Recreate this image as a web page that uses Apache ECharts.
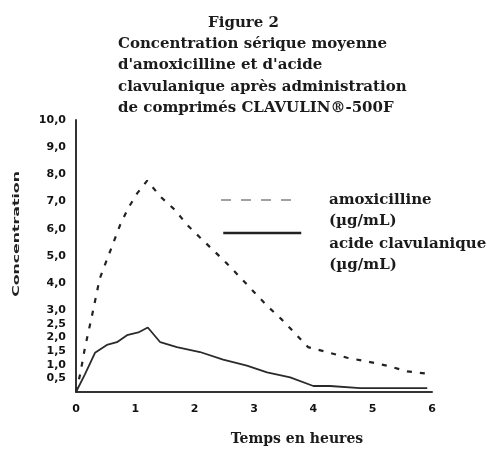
<!DOCTYPE html>
<html>
<head>
<meta charset="utf-8">
<script src="https://cdn.jsdelivr.net/npm/echarts@6/dist/echarts.min.js"></script>
<style>
  html, body { margin: 0; padding: 0; background: #fff; }
  #chart { width: 487px; height: 451px; }
</style>
</head>
<body>
<div id="chart"></div>
<script>
// ---- Data ----
const titleHead = 'Figure 2';
const titleLines = [
  'Concentration sérique moyenne',
  "d'amoxicilline et d'acide",
  'clavulanique après administration',
  'de comprimés CLAVULIN®-500F'
];
const xAxisTitle = 'Temps en heures';
const yAxisTitle = 'Concentration';
const seriesNames = ['amoxicilline', 'acide clavulanique'];
const unitLabel = '(µg/mL)';

const xTickValues = [0, 1, 2, 3, 4, 5, 6];
const yTickValues = [0.5, 1, 1.5, 2, 2.5, 3, 4, 5, 6, 7, 8, 9, 10];
const yTickLabels = ['0,5', '1,0', '1,5', '2,0', '2,5', '3,0', '4,0', '5,0', '6,0', '7,0', '8,0', '9,0', '10,0'];

const amoxTime = [0, 0.07, 0.15, 0.27, 0.40, 0.52, 0.62, 0.74, 0.88, 1.03, 1.20, 1.42, 1.67, 1.87, 2.09, 2.31, 2.55, 2.80, 3.02, 3.22, 3.47, 3.69, 3.91, 4.23, 4.57, 4.91, 5.24, 5.58, 5.89];
const amoxConc = [0, 0.65, 1.62, 2.81, 4.17, 4.86, 5.43, 6.12, 6.76, 7.30, 7.77, 7.19, 6.69, 6.15, 5.68, 5.22, 4.71, 4.14, 3.63, 3.17, 2.66, 2.16, 1.65, 1.47, 1.26, 1.12, 0.97, 0.76, 0.68];

const clavTime = [0, 0.15, 0.32, 0.52, 0.69, 0.86, 1.05, 1.21, 1.42, 1.70, 2.09, 2.48, 2.88, 3.22, 3.61, 4.00, 4.28, 4.79, 5.92];
const clavConc = [0, 0.65, 1.44, 1.73, 1.83, 2.09, 2.19, 2.37, 1.83, 1.65, 1.47, 1.19, 0.97, 0.72, 0.54, 0.22, 0.22, 0.14, 0.14];

// ---- Build chart ----
const pairs = (xs, ys) => xs.map((x, i) => [x, ys[i]]);
const yLabelMap = {};
yTickValues.forEach((v, i) => { yLabelMap[v.toFixed(1)] = yTickLabels[i]; });

const serif = 'DejaVu Serif';
const ink = '#1b1b1b';
const L = 21.5;

const chart = echarts.init(document.getElementById('chart'), null, { renderer: 'canvas' });
chart.setOption({
  animation: false,
  backgroundColor: '#ffffff',
  title: [
    {
      text: titleHead, left: 'center', top: 12, padding: 0,
      textStyle: { fontFamily: serif, fontSize: 15, fontWeight: 'bold', color: ink, lineHeight: 21.5 }
    },
    {
      text: titleLines.join('\n'), left: 118, top: 33, padding: 0,
      textStyle: { fontFamily: serif, fontSize: 15, fontWeight: 'bold', color: ink, lineHeight: 21.5 }
    }
  ],
  legend: [
    {
      data: [seriesNames[0]], orient: 'vertical', left: 220, top: 200 - (3 * L) / 2,
      padding: 0, itemWidth: 72, itemHeight: 10,
      formatter: n => '\u00a0\n' + n + '\n' + unitLabel,
      itemStyle: { opacity: 0 },
      lineStyle: { color: '#a0a0a0', width: 2, type: [10, 10] },
      textStyle: { fontFamily: serif, fontSize: 15, fontWeight: 'bold', color: ink, lineHeight: L, padding: [0, 0, 0, 31] }
    },
    {
      data: [seriesNames[1]], orient: 'vertical', left: 222, top: 233 - (4 * L) / 2,
      padding: 0, itemWidth: 78, itemHeight: 10,
      formatter: n => '\u00a0\n\u00a0\n' + n + '\n' + unitLabel,
      itemStyle: { opacity: 0 },
      lineStyle: { color: '#222', width: 2.5, type: 'solid' },
      textStyle: { fontFamily: serif, fontSize: 15, fontWeight: 'bold', color: ink, lineHeight: L, padding: [0, 0, 0, 23] }
    }
  ],
  grid: { left: 76, right: 55, top: 120, bottom: 53 },
  xAxis: {
    type: 'value', min: 0, max: 6, interval: 1,
    name: xAxisTitle, nameLocation: 'middle', nameGap: 40,
    nameTextStyle: { fontFamily: serif, fontSize: 14, fontWeight: 'bold', color: ink, padding: [0, 0, 0, 86] },
    axisLine: { show: true, lineStyle: { color: '#333', width: 2 } },
    axisTick: { show: false },
    splitLine: { show: false },
    axisLabel: {
      margin: 12, fontFamily: 'DejaVu Sans', fontSize: 11, fontWeight: 'bold', color: '#111',
      formatter: v => (xTickValues.indexOf(v) >= 0 ? String(v) : '')
    }
  },
  yAxis: {
    type: 'value', min: 0, max: 10, interval: 0.5,
    axisLine: { show: true, lineStyle: { color: '#333', width: 2 } },
    axisTick: { show: false },
    splitLine: { show: false },
    axisLabel: {
      margin: 10, fontFamily: 'DejaVu Sans', fontSize: 11, fontWeight: 'bold', color: '#111',
      formatter: v => yLabelMap[v.toFixed(1)] || ''
    }
  },
  graphic: [
    {
      type: 'text', x: 17, y: 234, rotation: Math.PI / 2, scaleX: 1.75,
      style: {
        text: yAxisTitle, fontFamily: 'DejaVu Sans', fontSize: 9, fontWeight: 'bold', fill: '#222',
        align: 'center', verticalAlign: 'middle'
      }
    }
  ],
  series: [
    {
      name: seriesNames[0], type: 'line', symbol: 'none', smooth: false,
      data: pairs(amoxTime, amoxConc),
      lineStyle: { color: '#222', width: 2.2, type: [5, 8] },
      itemStyle: { color: '#222' }
    },
    {
      name: seriesNames[1], type: 'line', symbol: 'none', smooth: false,
      data: pairs(clavTime, clavConc),
      lineStyle: { color: '#2a2a2a', width: 1.8, type: 'solid' },
      itemStyle: { color: '#2a2a2a' }
    }
  ]
});
</script>
</body>
</html>
